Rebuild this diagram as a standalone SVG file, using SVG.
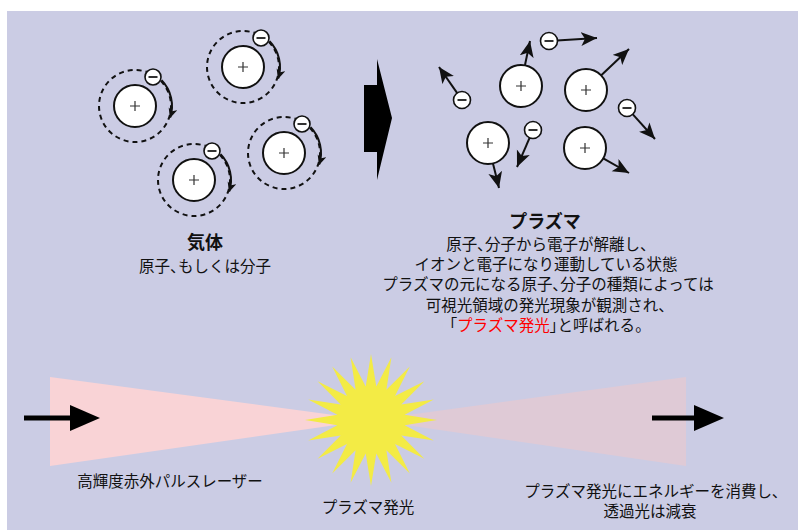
<svg xmlns="http://www.w3.org/2000/svg" xmlns:xlink="http://www.w3.org/1999/xlink" width="800" height="530" viewBox="0 0 800 530">
  <style>
    .jp { font-family: "Noto Sans CJK JP", "Noto Sans", sans-serif; fill: #111; }
    .ttl { font-size: 18px; font-weight: bold; }
    .body { font-size: 15.5px; }
    .lbl { font-size: 15.5px; }
    .p { font-feature-settings: "palt"; }
    .plus { stroke: #333; stroke-width: 1.2; }
    .minus { stroke: #333; stroke-width: 2; }
    .orbit { fill: none; stroke: #111; stroke-width: 2; stroke-dasharray: 5 4; }
    .nuc { fill: #fff; stroke: #111; stroke-width: 2; }
    .ele { fill: #fff; stroke: #111; stroke-width: 1.6; }
    .spin { fill: none; stroke: #111; stroke-width: 2; marker-end: url(#headSmall); }
    .fly { fill: none; stroke: #111; stroke-width: 2; marker-end: url(#headBig); }
  </style>
  <defs>
    <marker id="headSmall" markerUnits="userSpaceOnUse" markerWidth="12" markerHeight="10" refX="9" refY="4.5" orient="auto">
      <path d="M0,0 L10,4.5 L0,9 L2.5,4.5 z" fill="#111"/>
    </marker>
    <marker id="headBig" markerUnits="userSpaceOnUse" markerWidth="18" markerHeight="16" refX="16" refY="7" orient="auto">
      <path d="M0,0 L16,7 L0,14 L4,7 z" fill="#111"/>
    </marker>
    <!-- bound atom: nucleus, dashed orbit, electron and its circling arrow -->
    <g id="gasAtom">
      <circle class="orbit" r="36"/>
      <circle class="nuc" r="21"/>
      <path class="plus" d="M-5,0 H5 M0,-5 V5"/>
      <path class="spin" d="M26.6,-25.7 A37,37 0 0 1 35.2,11.4"/>
      <circle class="ele" cx="18" cy="-29" r="8"/>
      <path class="minus" d="M13.5,-29 H22.5"/>
    </g>
    <g id="ion">
      <circle class="nuc" r="21"/>
      <path class="plus" d="M-5,0 H5 M0,-5 V5"/>
    </g>
    <g id="electron">
      <circle class="ele" r="8.5"/>
      <path class="minus" d="M-4.5,0 H4.5"/>
    </g>
  </defs>

  <rect x="7" y="11" width="791" height="519" fill="#cbcce4"/>

  <!-- gas: four bound atoms -->
  <g id="gas-atom-1"><use xlink:href="#gasAtom" transform="translate(135,106)"/></g>
  <g id="gas-atom-2"><use xlink:href="#gasAtom" transform="translate(243,67)"/></g>
  <g id="gas-atom-3"><use xlink:href="#gasAtom" transform="translate(194,180)"/></g>
  <g id="gas-atom-4"><use xlink:href="#gasAtom" transform="translate(284,153)"/></g>

  <!-- transition arrow -->
  <g id="transition">
    <polygon points="364,85 377,85 377,59 392,118 377,180 377,152 364,152" fill="#000"/>
  </g>

  <!-- plasma: free ions and electrons -->
  <g id="connectors">
    <line class="fly" x1="525" y1="65" x2="530" y2="41"/>
    <line class="fly" x1="601" y1="75.5" x2="629" y2="49"/>
    <line class="fly" x1="493" y1="163.4" x2="499" y2="188"/>
    <line class="fly" x1="603.3" y1="158.4" x2="629" y2="173"/>
    <line class="fly" x1="557" y1="40.5" x2="597" y2="38"/>
    <line class="fly" x1="457.4" y1="93.4" x2="439" y2="67"/>
    <line class="fly" x1="632.4" y1="113.9" x2="655" y2="139"/>
    <line class="fly" x1="529.8" y1="137.4" x2="517" y2="167"/>
  </g>
  <g id="ion-a"><use xlink:href="#ion" transform="translate(521,86)"/></g>
  <g id="ion-b"><use xlink:href="#ion" transform="translate(586,90)"/></g>
  <g id="ion-c"><use xlink:href="#ion" transform="translate(488,143)"/></g>
  <g id="ion-d"><use xlink:href="#ion" transform="translate(585,148)"/></g>
  <g id="electron-1"><use xlink:href="#electron" transform="translate(549,41)"/></g>
  <g id="electron-2"><use xlink:href="#electron" transform="translate(462,100)"/></g>
  <g id="electron-3"><use xlink:href="#electron" transform="translate(627,108)"/></g>
  <g id="electron-4"><use xlink:href="#electron" transform="translate(533,130)"/></g>

  <!-- captions -->
  <g id="gas-caption" class="jp" text-anchor="middle">
    <text class="ttl" x="205" y="249">気体</text>
    <text class="body" x="205" y="272">原子<tspan class="p">、</tspan>もしくは分子</text>
  </g>
  <g id="plasma-caption" class="jp" text-anchor="middle">
    <text class="ttl" x="545" y="228">プラズマ</text>
    <text class="body" x="547" y="250">原子<tspan class="p">、</tspan>分子から電子が解離し<tspan class="p">、</tspan></text>
    <text class="body" x="546" y="270">イオンと電子になり運動している状態</text>
    <text class="body" x="548" y="290">プラズマの元になる原子<tspan class="p">、</tspan>分子の種類によっては</text>
    <text class="body" x="546" y="311">可視光領域の発光現象が観測され<tspan class="p">、</tspan></text>
    <text class="body" x="546" y="331"><tspan class="p">「</tspan><tspan fill="#f00">プラズマ発光</tspan><tspan class="p">」</tspan>と呼ばれる<tspan class="p">。</tspan></text>
  </g>

  <!-- laser beam through the plasma -->
  <g id="laser-in">
    <polygon points="50,377 371,420 50,466" fill="#f9d3d6"/>
  </g>
  <g id="laser-out">
    <polygon points="371,420 686,377 686,466" fill="#dfcad6"/>
  </g>
  <!-- 20-point burst: outer radius 66, inner radius 34 -->
  <g id="flash">
    <polygon fill="#f3eb45" points="371,354 376.3,386.4 391.4,357.2 386.4,389.7 409.8,366.6 395,396 424.4,381.2 401.3,404.6 433.8,399.6 404.6,414.7 437,420 404.6,425.3 433.8,440.4 401.3,435.4 424.4,458.8 395,444 409.8,473.4 386.4,450.3 391.4,482.8 376.3,453.6 371,486 365.7,453.6 350.6,482.8 355.6,450.3 332.2,473.4 347,444 317.6,458.8 340.7,435.4 308.2,440.4 337.4,425.3 305,420 337.4,414.7 308.2,399.6 340.7,404.6 317.6,381.2 347,396 332.2,366.6 355.6,389.7 350.6,357.2 365.7,386.4"/>
  </g>
  <g id="arrows-beam">
    <line x1="24" y1="418" x2="74" y2="418" stroke="#000" stroke-width="5"/>
    <polygon points="70,405 100,418 70,431" fill="#000"/>
    <line x1="652" y1="418" x2="700" y2="418" stroke="#000" stroke-width="5"/>
    <polygon points="694,405 724,418 694,431" fill="#000"/>
  </g>
  <g id="beam-labels" class="jp lbl" text-anchor="middle">
    <text x="170" y="487">高輝度赤外パルスレーザー</text>
    <text x="368" y="513">プラズマ発光</text>
    <text x="652" y="497">プラズマ発光にエネルギーを消費し<tspan class="p">、</tspan></text>
    <text x="650" y="517">透過光は減衰</text>
  </g>
</svg>
